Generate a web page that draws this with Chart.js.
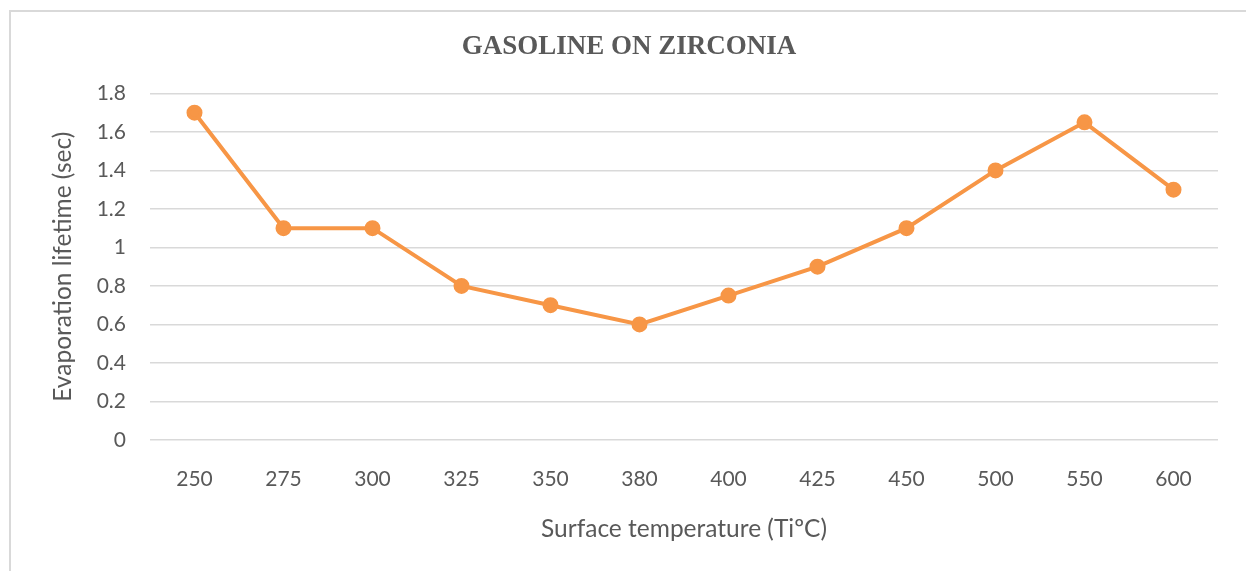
<!DOCTYPE html>
<html>
<head>
<meta charset="utf-8">
<script src="https://cdn.jsdelivr.net/npm/chart.js@4"></script>
<style>
html,body{margin:0;padding:0;background:#fff;width:1246px;height:571px;overflow:hidden;}
#frame{position:absolute;left:9px;top:10px;right:0;bottom:0;border-left:2px solid #d9d9d9;border-top:2px solid #d9d9d9;}
#c{position:absolute;left:0;top:0;}
</style>
</head>
<body>
<div id="frame"></div>
<canvas id="c" width="1246" height="571"></canvas>
<script>
const chartTitle = "GASOLINE ON ZIRCONIA";
const temperatures = ["250","275","300","325","350","380","400","425","450","500","550","600"];
const lifetimes = [1.7, 1.1, 1.1, 0.8, 0.7, 0.6, 0.75, 0.9, 1.1, 1.4, 1.65, 1.3];
const xTitle = "Surface temperature (TiºC)";
const yTitle = "Evaporation lifetime (sec)";

const gray = "#595959";
const tickFont = {family: "Lato, 'Open Sans', sans-serif", size: 21, weight: "normal"};
const axisTitleFont = {family: "Lato, 'Open Sans', sans-serif", size: 24.5, weight: "normal"};

new Chart(document.getElementById("c"), {
  type: "line",
  data: {
    labels: temperatures,
    datasets: [{
      data: lifetimes,
      borderColor: "#F79646",
      backgroundColor: "#F79646",
      borderWidth: 4,
      pointRadius: 6,
      pointHoverRadius: 6,
      pointBackgroundColor: "#F79646",
      pointBorderColor: "#F79646",
      tension: 0,
      fill: false
    }]
  },
  options: {
    responsive: false,
    animation: false,
    events: [],
    layout: {padding: {left: 40, right: 28, top: 0, bottom: 0}},
    plugins: {
      legend: {display: false},
      tooltip: {enabled: false},
      title: {
        display: true,
        text: chartTitle,
        color: gray,
        font: {family: "'Liberation Serif', 'Times New Roman', serif", size: 27, weight: "bold"},
        padding: {top: 31, bottom: 30}
      }
    },
    scales: {
      x: {
        offset: true,
        grid: {display: false, drawTicks: false},
        border: {display: false},
        ticks: {color: gray, font: tickFont, padding: 27, maxRotation: 0},
        title: {display: true, text: xTitle, color: gray, font: axisTitleFont, padding: {top: 10, bottom: 27}},
        afterFit: s => { s.height = 131; }
      },
      y: {
        min: 0,
        max: 1.8,
        grid: {color: "#d9d9d9", lineWidth: 1.5, drawTicks: false},
        border: {display: false},
        ticks: {stepSize: 0.2, color: gray, font: tickFont, padding: 24,
          callback: v => String(Math.round(v * 10) / 10)},
        title: {display: true, text: yTitle, color: gray, font: axisTitleFont, padding: {top: 8, bottom: 0}},
        afterFit: s => { s.width = 110; }
      }
    }
  }
});
</script>
</body>
</html>
